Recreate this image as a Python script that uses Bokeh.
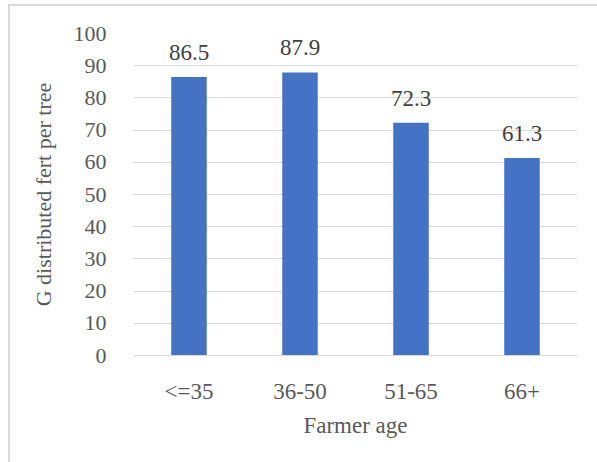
from bokeh.plotting import figure
from bokeh.models import ColumnDataSource, LabelSet, Range1d, FixedTicker
from bokeh.core.properties import value
from bokeh.embed import file_html
from bokeh.resources import INLINE

categories = ["<=35", "36-50", "51-65", "66+"]
values = [86.5, 87.9, 72.3, 61.3]
labels = ["86.5", "87.9", "72.3", "61.3"]
y_ticks = [0, 10, 20, 30, 40, 50, 60, 70, 80, 90, 100]
y_title = "G distributed fert per tree"
x_title = "Farmer age"

FONT = "'Liberation Serif', 'Times New Roman', serif"
TXT = "#595959"
GRID = "#d9d9d9"

src = ColumnDataSource(dict(cat=categories, val=values, lab=labels))

p = figure(x_range=categories, y_range=Range1d(0, 100),
           width=589, height=458, output_backend="svg", toolbar_location=None,
           min_border_left=123, min_border_right=22, min_border_top=27, min_border_bottom=109)
p.styles = {"margin-left": "8px", "margin-top": "4px",
            "border-left": "2px solid #d9d9d9", "border-top": "2px solid #d9d9d9"}

p.vbar(x="cat", top="val", width=0.32, source=src, fill_color="#4472C4", line_color=None)

p.add_layout(LabelSet(x="cat", y="val", text="lab", source=src, text_align="center",
                      text_baseline="alphabetic", y_offset=17, text_font=value(FONT),
                      text_font_size=value("23px"), text_color=value("#404040")))

p.outline_line_color = None
p.xgrid.grid_line_color = None
p.ygrid.grid_line_color = GRID
p.ygrid.grid_line_width = 1
p.yaxis.ticker = FixedTicker(ticks=y_ticks)

p.yaxis.axis_line_color = None
p.yaxis.major_tick_line_color = None
p.yaxis.minor_tick_line_color = None
p.yaxis.major_label_standoff = 21
p.yaxis.axis_label = y_title
p.yaxis.axis_label_standoff = 15

p.xaxis.axis_line_color = GRID
p.xaxis.axis_line_width = 1
p.xaxis.major_tick_line_color = None
p.xaxis.minor_tick_line_color = None
p.xaxis.major_label_standoff = 17
p.xaxis.axis_label = x_title
p.xaxis.axis_label_standoff = 6

for ax in (p.xaxis, p.yaxis):
    ax.major_label_text_font = FONT
    ax.major_label_text_font_size = "22px"
    ax.major_label_text_color = TXT
    ax.axis_label_text_font = FONT
    ax.axis_label_text_font_size = "22px"
    ax.axis_label_text_font_style = "normal"
    ax.axis_label_text_color = TXT
p.xaxis.major_label_text_font_size = "23px"
p.xaxis.axis_label_text_font_size = "23px"

open("out.html", "w").write(file_html(p, INLINE))
